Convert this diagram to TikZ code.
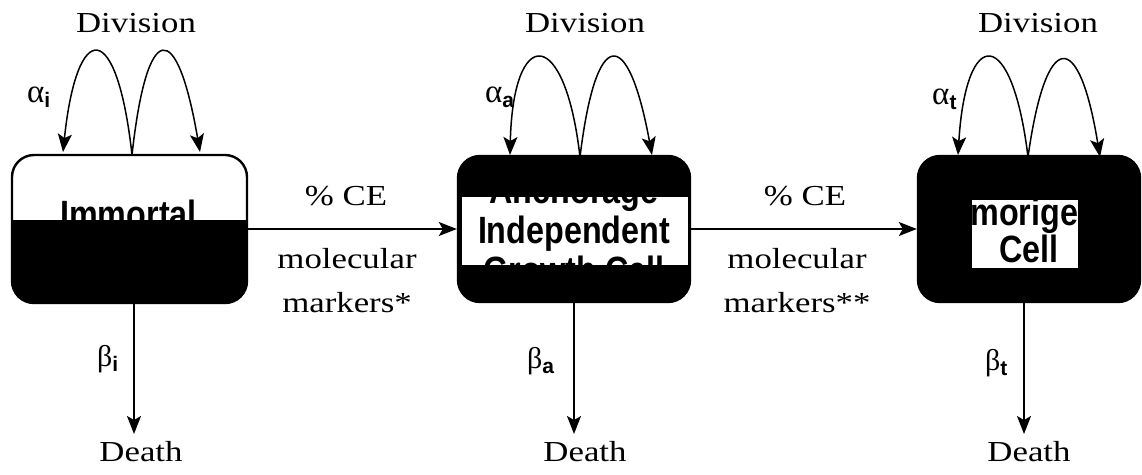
\documentclass[tikz,border=0pt]{standalone}
\usepackage{fontspec}
\setmainfont{Liberation Serif}
\newfontfamily\labfont[FakeStretch=1.2]{Liberation Serif}
\newfontfamily\boxfont[FakeStretch=0.85]{Liberation Sans}
\newfontfamily\subfont{Liberation Sans}
\usetikzlibrary{arrows.meta}
\newcommand{\gsub}[1]{\raisebox{-5pt}{\subfont\bfseries\fontsize{21}{21}\selectfont #1}}
\begin{document}
\begin{tikzpicture}[x=1pt,y=-1pt,
  lbl/.style={font=\labfont\fontsize{29}{44}\selectfont, inner sep=0pt, align=center},
  glab/.style={font=\fontsize{33}{33}\selectfont, inner sep=0pt, anchor=base west},
  cellbox/.style={draw=black, line width=2.4pt, rounded corners=22pt, inner sep=0pt},
  boxtxt/.style={font=\boxfont\bfseries\fontsize{38}{38}\selectfont, inner sep=0pt, anchor=base, text=black},
  arr/.style={-{Stealth[length=18pt,width=14pt,inset=4pt]}, line width=1.5pt},
]
\useasboundingbox (0,0) rectangle (1142,474);

% cells
\node[cellbox, minimum width=235pt, minimum height=148pt,
  path picture={\fill[black, sharp corners] (path picture bounding box.south west) rectangle ([yshift=-65pt]path picture bounding box.north east);}]
  (b1) at (129.5,229) {};
\node[boxtxt] (t1) at (128.5,227) {Immortal};

\node[cellbox, fill=black, minimum width=232pt, minimum height=146pt] (b2) at (574,229) {};
\fill[white] (462,197) rectangle (688,265);
\node[boxtxt] (t2a) at (574,203) {Anchorage};
\node[boxtxt] (t2b) at (574,243) {Independent};
\node[boxtxt] (t2c) at (574,283) {Growth Cell};

\node[cellbox, fill=black, minimum width=222pt, minimum height=146pt] (b3) at (1029,229) {};
\fill[white] (972,200) rectangle (1078,268);
\node[boxtxt] (t3a) at (1029,225) {Tumorigenic};
\node[boxtxt] (t3b) at (1029,262) {Cell};

% division labels
\node[lbl] (dv1) at (136,23) {Division};
\node[lbl] (dv2) at (585,23) {Division};
\node[lbl] (dv3) at (1038,23) {Division};

% division loops
\coordinate (m1) at (132,155);
\coordinate (l1) at (63,152);
\coordinate (r1) at (200,152);
\draw[arr] (m1) .. controls (117,18) and (77,18) .. (l1);
\draw[arr] (m1) .. controls (147,18) and (177,18) .. (r1);

\coordinate (m2) at (580,157);
\coordinate (l2) at (510,155);
\coordinate (r2) at (652,155);
\draw[arr] (m2) .. controls (565,25) and (513,25) .. (l2);
\draw[arr] (m2) .. controls (596,25) and (628,25) .. (r2);

\coordinate (m3) at (1028,157);
\coordinate (l3) at (958,155);
\coordinate (r3) at (1100,157);
\draw[arr] (m3) .. controls (1012,25) and (966,25) .. (l3);
\draw[arr] (m3) .. controls (1046,28) and (1079,28) .. (r3);

% alpha labels
\node[glab] (ga1) at (27,102) {α\gsub{i}};
\node[glab] (ga2) at (485,102) {α\gsub{a}};
\node[glab] (ga3) at (932,104) {α\gsub{t}};

% transitions
\draw[arr] (b1.east) -- (b2.west);
\draw[arr] (b2.east) -- (b3.west);
\node[lbl] (ce1) at (346,196) {\% CE};
\node[lbl] (ce2) at (805,196) {\% CE};
\node[lbl] (mm1) at (347,281) {molecular\\markers*};
\node[lbl] (mm2) at (797,281) {molecular\\markers**};

% death
\node[lbl] (de1) at (141,452) {Death};
\node[lbl] (de2) at (585,452) {Death};
\node[lbl] (de3) at (1029,452) {Death};
\coordinate (e1) at (134,434);
\coordinate (e2) at (574,434);
\coordinate (e3) at (1024,434);
\draw[arr] (e1 |- b1.south) -- (e1);
\draw[arr] (e2 |- b2.south) -- (e2);
\draw[arr] (e3 |- b3.south) -- (e3);

% beta labels
\node[glab, font=\fontsize{30}{30}\selectfont] (gb1) at (97,366) {β\gsub{i}};
\node[glab, font=\fontsize{30}{30}\selectfont] (gb2) at (527,368) {β\gsub{a}};
\node[glab, font=\fontsize{30}{30}\selectfont] (gb3) at (985,370) {β\gsub{t}};
\end{tikzpicture}
\end{document}
